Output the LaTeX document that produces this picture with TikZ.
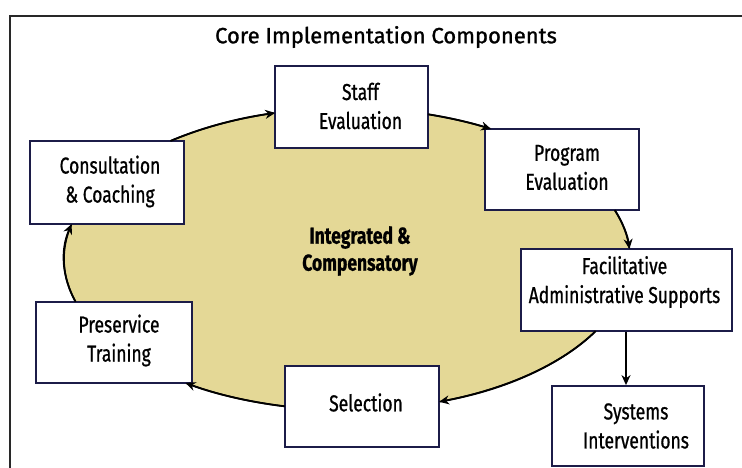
\documentclass[tikz,border=0pt]{standalone}
\usepackage{fontspec}
\setmainfont{Fira Sans}[FakeStretch=0.76,FakeBold=0.8]
\newfontfamily\titlefont{Fira Sans}[FakeStretch=1.0,FakeBold=1.2]
\usetikzlibrary{arrows.meta,shapes.geometric,calc}
\definecolor{khaki}{RGB}{228,216,150}
\definecolor{boxline}{RGB}{28,28,72}
\definecolor{framegray}{RGB}{40,40,40}
\begin{document}
\begin{tikzpicture}[x=1pt,y=1pt,
  box/.style={draw=boxline,line width=1.8pt,fill=white,rectangle,inner sep=0pt},
  txt/.style={align=center,font=\fontsize{23}{29}\selectfont,inner sep=0pt},
  arr/.style={draw=black,line width=1.8pt,-{Stealth[length=10pt,width=9pt]}},
]
\useasboundingbox (0,0) rectangle (742,-468);
% outer frame
\draw[framegray,line width=1.4pt] (10,-470) -- (10,-16) -- (744,-16);
% title
\node[txt,font=\titlefont\fontsize{22}{27}\selectfont] (title) at (386,-37) {Core Implementation Components};
% ellipse
\node[ellipse,draw=black,line width=1.6pt,fill=khaki,minimum width=566pt,minimum height=302pt,inner sep=0pt] (ell) at (347,-259) {};
\node[txt,font=\fontsize{23}{27}\selectfont\bfseries] (center) at (360,-251) {Integrated \&\\Compensatory};
% arc start points on the ellipse
\coordinate (a1) at ($(ell.center)+(128.6:283pt and 151pt)$);
\coordinate (a2) at ($(ell.center)+(73.4:283pt and 151pt)$);
\coordinate (a3) at ($(ell.center)+(18.9:283pt and 151pt)$);
\coordinate (a4) at ($(ell.center)+(-28.5:283pt and 151pt)$);
\coordinate (a5) at ($(ell.center)+(-102.7:283pt and 151pt)$);
\coordinate (a6) at ($(ell.center)+(-163.5:283pt and 151pt)$);
% boxes
\node[box,minimum width=154pt,minimum height=83pt] (cons) at (107,-182.5) {};
\node[box,minimum width=153pt,minimum height=82pt] (staff) at (351.5,-107) {};
\node[box,minimum width=154pt,minimum height=81pt] (prog) at (562,-169.5) {};
\node[box,minimum width=211pt,minimum height=82pt] (fac) at (626.5,-290) {};
\node[box,minimum width=152pt,minimum height=80pt] (sys) at (628,-426) {};
\node[box,minimum width=156pt,minimum height=81pt] (pre) at (114,-342.5) {};
\node[box,minimum width=154pt,minimum height=81pt] (sel) at (362,-406.5) {};
% box texts
\node[txt] (consT) at ($(cons.center)+(3,1)$) {Consultation\\\& Coaching};
\node[txt] (staffT) at ($(staff.center)+(9,1)$) {Staff\\Evaluation};
\node[txt] (progT) at ($(prog.center)+(5,2)$) {Program\\Evaluation};
\node[txt] (facT) at ($(fac.center)+(-2,8)$) {Facilitative\\Administrative Supports};
\node[txt] (sysT) at ($(sys.center)+(8,0)$) {Systems\\Interventions};
\node[txt] (preT) at ($(pre.center)+(5,2)$) {Preservice\\Training};
\node[txt] (selT) at ($(sel.center)+(4,4)$) {Selection};
% cycle arrows along the ellipse
\draw[arr] (a1) arc[start angle=128.6,end angle=104.7,x radius=283pt,y radius=151pt];
\draw[arr] (a2) arc[start angle=73.4,end angle=59.4,x radius=283pt,y radius=151pt];
\draw[arr] (a3) arc[start angle=18.9,end angle=3.8,x radius=283pt,y radius=151pt];
\draw[arr] (a4) arc[start angle=-28.5,end angle=-71.0,x radius=283pt,y radius=151pt];
\draw[arr] (a5) arc[start angle=-102.7,end angle=-124.8,x radius=283pt,y radius=151pt];
\draw[arr] (a6) arc[start angle=196.5,end angle=166.6,x radius=283pt,y radius=151pt];
% facilitative -> systems
\draw[arr] (fac.south -| sys.north) ++(-2,0) coordinate (fs) -- (fs |- sys.north);
\end{tikzpicture}
\end{document}
